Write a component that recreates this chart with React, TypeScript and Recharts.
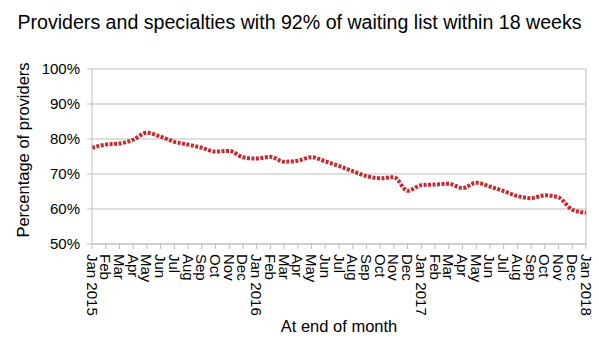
import React from "react";
import {
  LineChart,
  Line,
  XAxis,
  YAxis,
  CartesianGrid,
  ReferenceLine,
  Label,
} from "recharts";

const months = [
  "Jan 2015", "Feb", "Mar", "Apr", "May", "Jun", "Jul", "Aug", "Sep", "Oct", "Nov", "Dec",
  "Jan 2016", "Feb", "Mar", "Apr", "May", "Jun", "Jul", "Aug", "Sep", "Oct", "Nov", "Dec",
  "Jan 2017", "Feb", "Mar", "Apr", "May", "Jun", "Jul", "Aug", "Sep", "Oct", "Nov", "Dec",
  "Jan 2018",
];

const percentages = [
  77.5, 78.4, 78.7, 79.8, 81.8, 80.7, 79.2, 78.4, 77.5, 76.4, 76.6, 74.8,
  74.4, 74.9, 73.5, 73.8, 74.8, 73.6, 72.3, 70.8, 69.4, 68.8, 69.1, 65.2,
  66.8, 67.0, 67.2, 66.0, 67.5, 66.4, 65.1, 63.7, 63.1, 63.9, 63.3, 59.8,
  58.9,
];

const yTicks = [50, 60, 70, 80, 90, 100];

const titleText = "Providers and specialties with 92% of waiting list within 18 weeks";
const xTitle = "At end of month";
const yTitle = "Percentage of providers";

const data = months.map((m, i) => ({ key: i, month: m, value: percentages[i] }));

const FONT = "'Liberation Sans', Arial, Helvetica, sans-serif";
const GRID = "#bdbdbd";

const XTick = (props: any) => {
  const { x, y, payload } = props;
  const label = months[payload.value];
  return (
    <text
      x={0}
      y={0}
      transform={`translate(${x},${y + 3}) rotate(90)`}
      textAnchor="start"
      dominantBaseline="central"
      fontSize={15}
      fontFamily={FONT}
      fill="#000"
    >
      {label}
    </text>
  );
};

const YTitle = () => (
  <text
    x={0}
    y={0}
    transform="translate(23,150) rotate(-90)"
    textAnchor="middle"
    dominantBaseline="central"
    fontSize={16.5}
    fontFamily={FONT}
    fill="#000"
  >
    {yTitle}
  </text>
);

export default function App() {
  return (
    <div
      style={{
        position: "absolute",
        left: 0,
        top: 0,
        width: 599,
        height: 352,
        background: "#fff",
        fontFamily: FONT,
      }}
    >
      <div
        style={{
          position: "absolute",
          left: 0,
          top: 11,
          width: 599,
          textAlign: "center",
          fontSize: 19.6,
          color: "#000",
          whiteSpace: "nowrap",
        }}
      >
        {titleText}
      </div>
      <LineChart
        width={599}
        height={352}
        data={data}
        margin={{ top: 69, right: 13, left: 0, bottom: 0 }}
      >
        <CartesianGrid horizontal={true} vertical={false} stroke={GRID} />
        <XAxis
          dataKey="key"
          type="category"
          interval={0}
          height={108}
          tick={<XTick />}
          tickSize={5}
          stroke={GRID}
          axisLine={{ stroke: GRID }}
          tickLine={{ stroke: GRID }}
        >
          <Label
            value={xTitle}
            position="insideBottom"
            offset={20}
            style={{ fontSize: 16.5, fontFamily: FONT, fill: "#000" }}
          />
        </XAxis>
        <YAxis
          domain={[50, 100]}
          ticks={yTicks}
          width={92}
          tickSize={5}
          tickMargin={7}
          tickFormatter={(v: number) => `${v}%`}
          tick={{ fontSize: 15, fontFamily: FONT, fill: "#000" }}
          axisLine={{ stroke: GRID }}
          tickLine={{ stroke: GRID }}
        >
          <Label content={<YTitle />} />
        </YAxis>
        <ReferenceLine x={months.length - 1} stroke={GRID} />
        <Line
          type="monotone"
          dataKey="value"
          stroke="#c8282e"
          strokeWidth={4}
          strokeDasharray="3 1.5"
          dot={false}
          isAnimationActive={false}
        />
      </LineChart>
    </div>
  );
}
